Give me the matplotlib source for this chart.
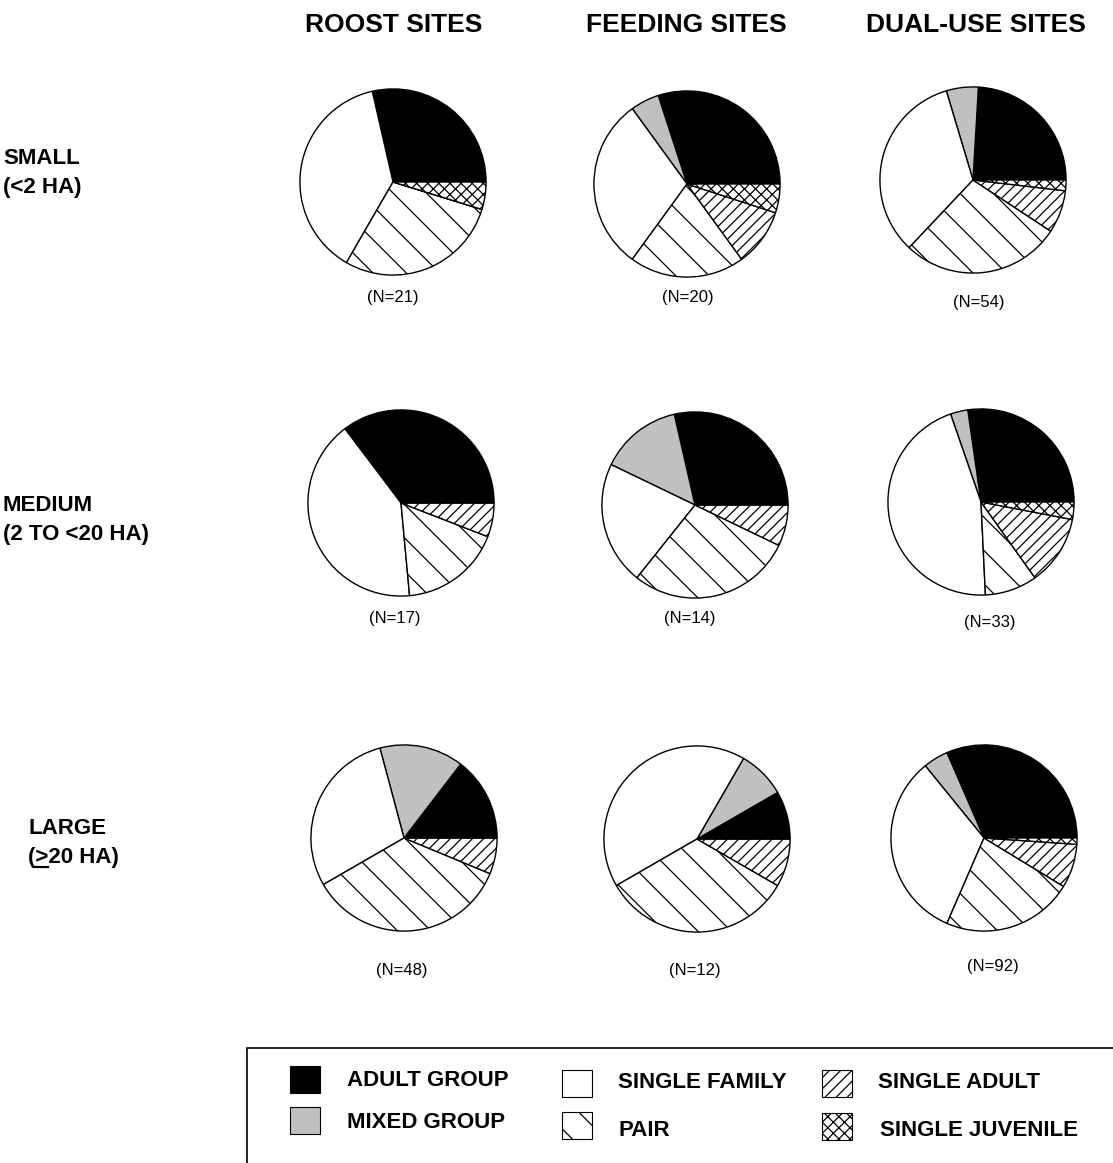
import matplotlib
matplotlib.use('Agg')
import matplotlib.pyplot as plt
from matplotlib.patches import Rectangle
from matplotlib.lines import Line2D

plt.rcParams['font.family'] = ['Liberation Sans', 'DejaVu Sans']
plt.rcParams['hatch.linewidth'] = 0.9

W, H = 1113, 1163

# categories, counter-clockwise from 3 o'clock
categories = ['ADULT GROUP', 'MIXED GROUP', 'SINGLE FAMILY', 'PAIR',
              'SINGLE ADULT', 'SINGLE JUVENILE']
sites = ['ROOST SITES', 'FEEDING SITES', 'DUAL-USE SITES']
sizes = ['SMALL\n(<2 HA)', 'MEDIUM\n(2 TO <20 HA)', 'LARGE\n(>20 HA)']

# counts per category
roost_small = [6, 0, 8, 6, 0, 1]
feeding_small = [6, 1, 6, 4, 2, 1]
dual_small = [13, 3, 18, 15, 4, 1]
roost_medium = [6, 0, 7, 3, 1, 0]
feeding_medium = [4, 2, 3, 4, 1, 0]
dual_medium = [9, 1, 15, 3, 4, 1]
roost_large = [7, 7, 14, 17, 3, 0]
feeding_large = [1, 1, 5, 4, 1, 0]
dual_large = [29, 4, 30, 21, 7, 1]

pies = [[roost_small, feeding_small, dual_small],
        [roost_medium, feeding_medium, dual_medium],
        [roost_large, feeding_large, dual_large]]

colors = ['black', '#c0c0c0', 'white', 'white', 'white', 'white']
hatches = ['', '', '', '\\', '///', 'xxx']

# layout in pixels
centers = [[(393, 182), (687, 184), (973, 180)],
           [(401, 503), (695, 505), (981, 502)],
           [(404, 838), (697, 839), (984, 838)]]
n_pos = [[(393, 297), (688, 297), (979, 302)],
         [(395, 619), (690, 619), (990, 622)],
         [(402, 970), (695, 970), (993, 967)]]
R = 94
head_x = [394, 686, 976]
row_lab = [(3, 173), (3, 520), (28, 843)]


def fx(x):
    return x / W


def fy(y):
    return 1 - y / H


fig = plt.figure(figsize=(W / 100, H / 100), dpi=100)

for i in range(3):
    for j in range(3):
        cx, cy = centers[i][j]
        ax = fig.add_axes([fx(cx - R), fy(cy + R), 2 * R / W, 2 * R / H])
        wedges, _ = ax.pie(pies[i][j], colors=colors, startangle=0,
                           counterclock=True,
                           wedgeprops=dict(edgecolor='black', linewidth=1))
        for w, h in zip(wedges, hatches):
            w.set_hatch(h)
        ax.set_xlim(-1.01, 1.01)
        ax.set_ylim(-1.01, 1.01)
        ax.axis('off')
        nx, ny = n_pos[i][j]
        fig.text(fx(nx), fy(ny), '(N=%d)' % sum(pies[i][j]),
                 ha='center', va='center', fontsize=12)

for x, s in zip(head_x, sites):
    fig.text(fx(x), fy(25), s, ha='center', va='center',
             fontsize=19, fontweight='bold')

lab_fs = 16
for (x, y), s in zip(row_lab, sizes):
    fig.text(fx(x), fy(y), s, ha='left', va='center', fontsize=lab_fs,
             fontweight='bold', linespacing=1.45)

# underline the ">" of the LARGE label (means >=)
fig.canvas.draw()
rend = fig.canvas.get_renderer()
lx, ly = row_lab[2]
t1 = fig.text(fx(lx), fy(ly), '(', fontsize=lab_fs, fontweight='bold')
t2 = fig.text(fx(lx), fy(ly), '(>', fontsize=lab_fs, fontweight='bold')
x1 = t1.get_window_extent(rend).x1
x2 = t2.get_window_extent(rend).x1
t1.remove()
t2.remove()
fig.add_artist(Line2D([x1 / W, x2 / W], [fy(867), fy(867)],
                      color='black', linewidth=1.6,
                      transform=fig.transFigure))

# legend box
fig.add_artist(Rectangle((fx(247), fy(1175)), (1130 - 247) / W, (1175 - 1048) / H,
                         transform=fig.transFigure, facecolor='none',
                         edgecolor='black', linewidth=1.2))
leg_pos = [(290, 1066, 347, 1080), (290, 1107, 347, 1122),
           (562, 1070, 618, 1082), (562, 1112, 618, 1131),
           (822, 1070, 878, 1083), (822, 1113, 880, 1131)]
for k, (bx, by, tx, ty) in enumerate(leg_pos):
    bw, bh = 30, 27
    fig.add_artist(Rectangle((fx(bx), fy(by + bh)), bw / W, bh / H,
                             transform=fig.transFigure, facecolor=colors[k],
                             edgecolor='black', linewidth=0.8,
                             hatch=hatches[k]))
    fig.text(fx(tx), fy(ty), categories[k], ha='left', va='center',
             fontsize=16, fontweight='bold')

fig.savefig('out.png', dpi=100)
